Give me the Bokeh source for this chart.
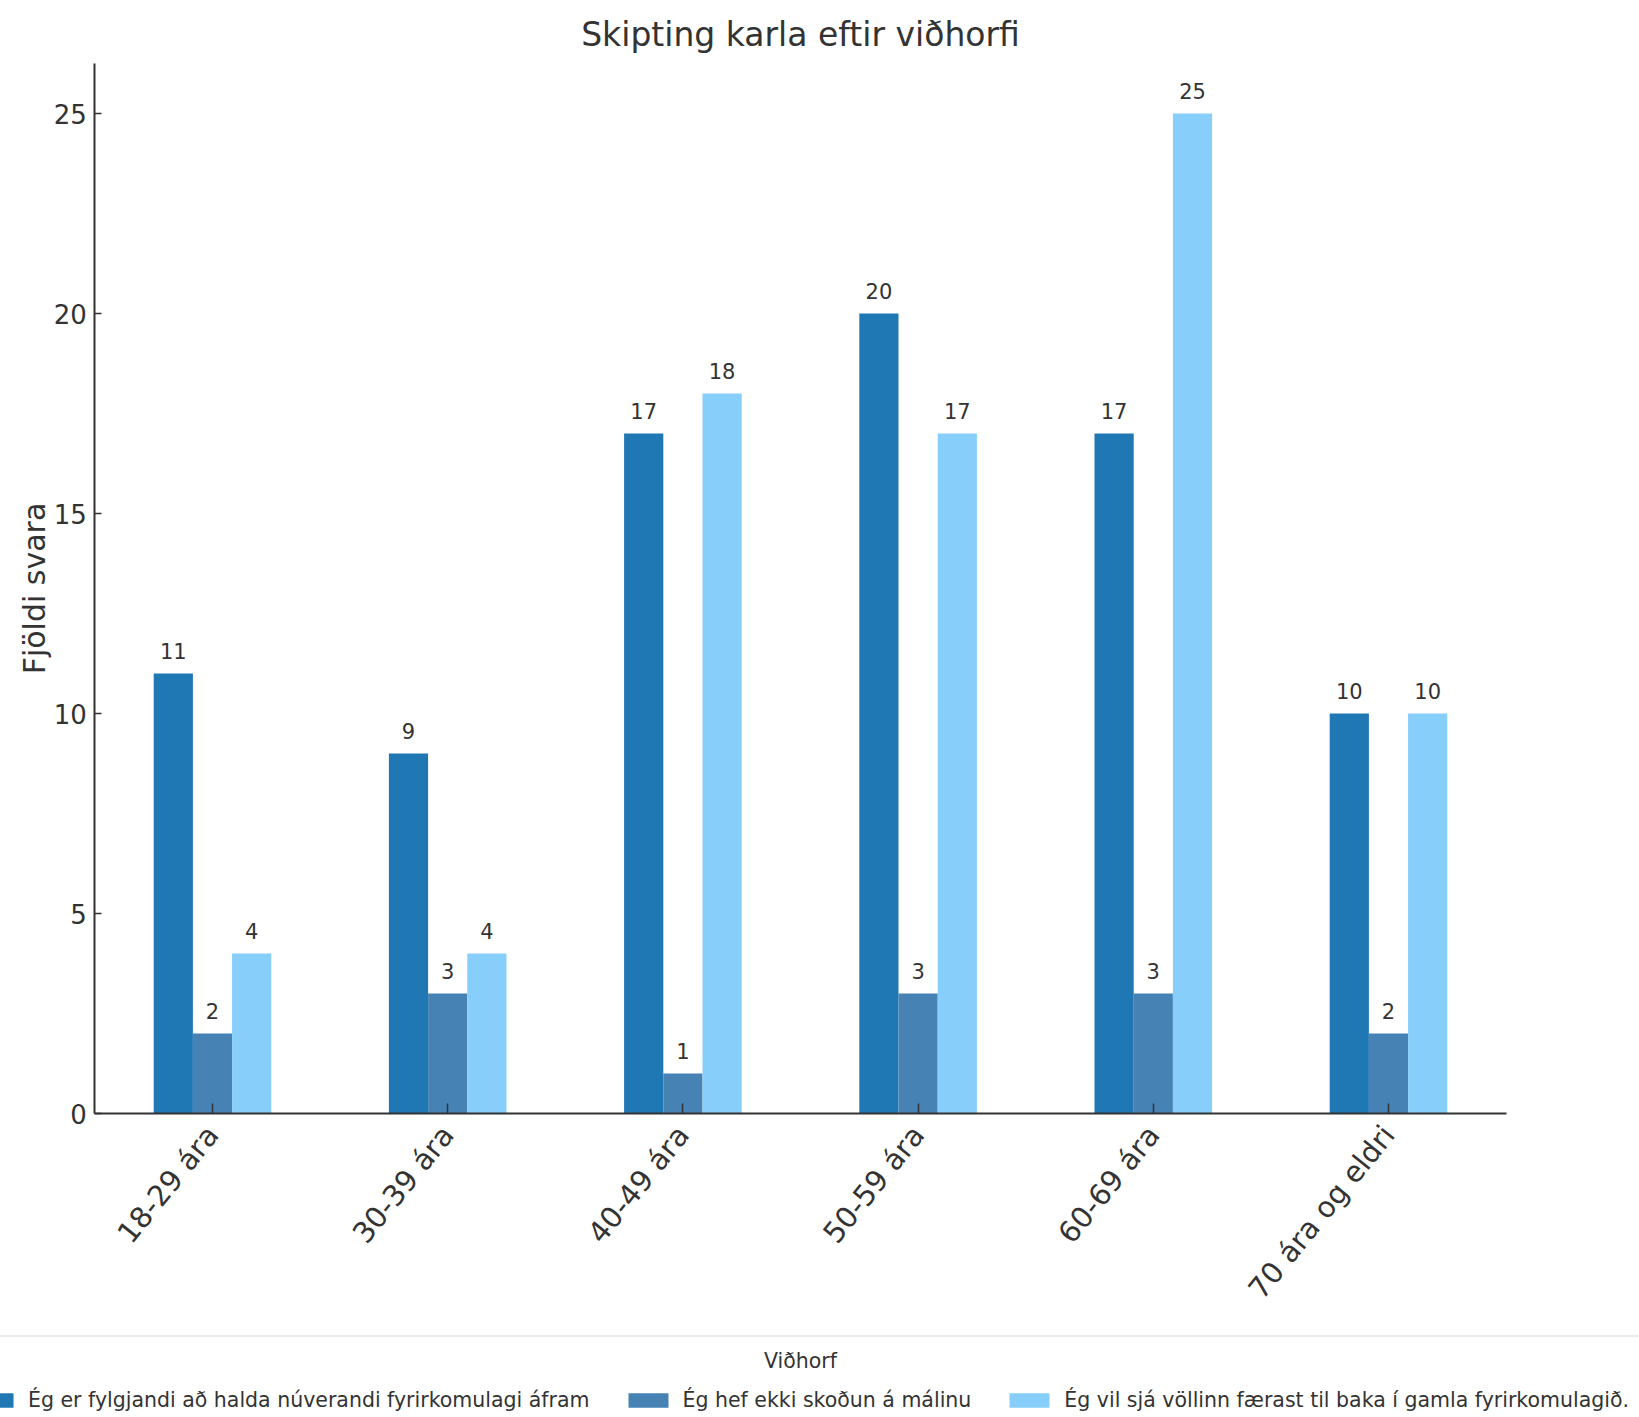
from bokeh.plotting import figure
from bokeh.models import Range1d, Legend, LegendItem, Label, FixedTicker
from bokeh.transform import dodge
from bokeh.core.properties import value
from bokeh.embed import file_html
from bokeh.resources import INLINE
import math

categories = ["18-29 ára", "30-39 ára", "40-49 ára", "50-59 ára", "60-69 ára", "70 ára og eldri"]
series_names = [
    "Ég er fylgjandi að halda núverandi fyrirkomulagi áfram",
    "Ég hef ekki skoðun á málinu",
    "Ég vil sjá völlinn færast til baka í gamla fyrirkomulagið.",
]
fylgjandi = [11, 9, 17, 20, 17, 10]
engin_skodun = [2, 3, 1, 3, 3, 2]
til_baka = [4, 4, 18, 17, 25, 10]
y_ticks = [0, 5, 10, 15, 20, 25]

colors = ["#1f77b4", "#4682b4", "#87cefa"]
FONT = "DejaVu Sans"
TXT = "#333333"

idx = list(range(len(categories)))
data = dict(idx=idx, cat=categories, s0=fylgjandi, s1=engin_skodun, s2=til_baka,
            l0=[str(v) for v in fylgjandi], l1=[str(v) for v in engin_skodun],
            l2=[str(v) for v in til_baka])

W, H = 1639, 1417
px_x = 235.2      # pixels per category
px_y = 40.0       # pixels per unit
x0_px = 212       # pixel of first category
y0_px = 1113      # pixel of zero
xr = Range1d(-x0_px / px_x, (W - x0_px) / px_x)
yr = Range1d(-(H - y0_px) / px_y, y0_px / px_y)
ymax = 26.25

p = figure(width=W, height=H, output_backend="svg", toolbar_location=None,
           x_range=xr, y_range=yr, min_border=0,
           min_border_left=0, min_border_right=0, min_border_top=0, min_border_bottom=0)

w = 0.5 / 3
offsets = [-w, 0.0, w]
renderers = []
for i, off in enumerate(offsets):
    r = p.vbar(x=dodge("idx", off), top="s%d" % i, width=w,
               source=data, fill_color=colors[i], line_color=None)
    renderers.append(r)
    p.text(x=dodge("idx", off), y="s%d" % i, text="l%d" % i,
           source=data, text_align="center", text_baseline="alphabetic", y_offset=-23,
           text_font=value(FONT), text_font_size="21px", text_color=TXT)

p.xgrid.visible = False
p.ygrid.visible = False
p.outline_line_color = None
p.background_fill_color = "white"
p.border_fill_color = "white"

for ax in (p.xaxis[0], p.yaxis[0]):
    ax.axis_line_color = TXT
    ax.axis_line_width = 2
    ax.major_tick_line_color = TXT
    ax.major_tick_line_width = 1.5
    ax.major_tick_out = 0
    ax.minor_tick_line_color = None
    ax.major_label_text_font = FONT
    ax.major_label_text_color = TXT

p.yaxis.fixed_location = -0.5
p.yaxis.bounds = (0, ymax)
p.yaxis.ticker = FixedTicker(ticks=y_ticks)
p.yaxis.major_tick_in = 7
p.yaxis.major_label_text_font_size = "26px"
p.yaxis.major_label_standoff = 8
p.yaxis.axis_label = "Fjöldi svara"
p.yaxis.axis_label_text_font = FONT
p.yaxis.axis_label_text_font_size = "30px"
p.yaxis.axis_label_text_font_style = "normal"
p.yaxis.axis_label_text_color = TXT
p.yaxis.axis_label_standoff = -2

p.xaxis.fixed_location = 0
p.xaxis.bounds = (-0.5, len(categories) - 0.5)
p.xaxis.ticker = FixedTicker(ticks=idx)
p.xaxis.major_label_overrides = {i: c for i, c in zip(idx, categories)}
p.xaxis.major_tick_in = 10
p.xaxis.major_label_text_font_size = "29px"
p.xaxis.major_label_orientation = math.radians(51)
p.xaxis.major_label_standoff = 16

legend = Legend(items=[LegendItem(label=series_names[i], renderers=[renderers[i]]) for i in range(3)],
                orientation="horizontal", location=(-84, -47), margin=0, padding=50,
                glyph_width=50, glyph_height=18, label_standoff=10, spacing=33, label_height=25,
                label_text_font=FONT, label_text_font_size="20.5px", label_text_color=TXT,
                border_line_color="#d9d9d9", border_line_width=2, background_fill_color="white",
                background_fill_alpha=0.0)
p.add_layout(legend)

p.add_layout(Label(x=2.5, y=-6.175, text="Viðhorf", text_align="center", text_baseline="middle",
                   text_font=FONT, text_font_size="20.5px", text_color=TXT))

p.add_layout(Label(x=2.5, y=26.975, text="Skipting karla eftir viðhorfi", text_align="center",
                   text_baseline="middle", text_font=FONT, text_font_size="33px", text_color=TXT))

open("out.html", "w").write(file_html(p, INLINE))
